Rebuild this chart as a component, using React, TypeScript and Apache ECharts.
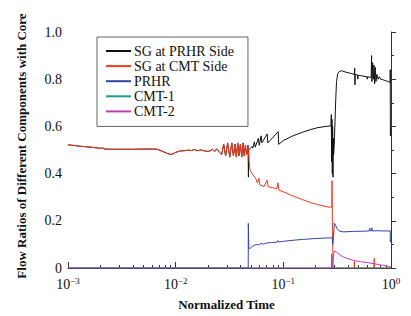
import React, { useEffect, useRef } from "react";
import * as echarts from "echarts";

// ---- data ([normalized time, flow ratio]) ----
const sharedEarly: [number, number][] = [
  [0.001, 0.522], [0.0013, 0.516], [0.0017, 0.511], [0.002, 0.507], [0.0021, 0.509],
  [0.0022, 0.504], [0.0025, 0.503], [0.003, 0.503], [0.004, 0.503], [0.005, 0.504],
  [0.0062, 0.504], [0.0067, 0.503], [0.0075, 0.495], [0.0083, 0.486], [0.009, 0.481],
  [0.0095, 0.484], [0.010, 0.490], [0.011, 0.496], [0.012, 0.497], [0.013, 0.499],
  [0.014, 0.498], [0.015, 0.502], [0.016, 0.497], [0.017, 0.500], [0.018, 0.498],
  [0.019, 0.495], [0.020, 0.494], [0.021, 0.497], [0.022, 0.503], [0.023, 0.493],
  [0.024, 0.505], [0.0255, 0.49], [0.0267, 0.48], [0.0279, 0.525], [0.0291, 0.475],
  [0.0304, 0.53], [0.0318, 0.47], [0.0332, 0.53], [0.0344, 0.475], [0.0356, 0.525],
  [0.0366, 0.47], [0.0377, 0.53], [0.0388, 0.475], [0.0399, 0.525], [0.0411, 0.47],
  [0.0423, 0.53], [0.0433, 0.475], [0.0444, 0.52], [0.0456, 0.48], [0.0468, 0.51],
];

const prhrSideLate: [number, number][] = [
  [0.047, 0.52], [0.0474, 0.385], [0.0477, 0.50], [0.049, 0.505], [0.051, 0.515],
  [0.052, 0.508], [0.0539, 0.535], [0.0548, 0.512], [0.0587, 0.55], [0.0597, 0.52],
  [0.0622, 0.56], [0.0632, 0.53], [0.0708, 0.568], [0.0718, 0.53], [0.0897, 0.578],
  [0.0905, 0.524], [0.10, 0.54], [0.12, 0.558], [0.15, 0.575], [0.18, 0.587],
  [0.21, 0.595], [0.25, 0.600], [0.277, 0.602], [0.279, 0.65], [0.281, 0.45],
  [0.283, 0.63], [0.285, 0.40], [0.287, 0.60], [0.289, 0.385], [0.291, 0.55],
  [0.293, 0.48], [0.297, 0.52], [0.302, 0.62], [0.307, 0.72], [0.312, 0.79],
  [0.32, 0.824], [0.33, 0.832], [0.347, 0.836], [0.38, 0.830], [0.42, 0.825],
  [0.455, 0.82], [0.46, 0.847], [0.463, 0.776], [0.466, 0.82], [0.49, 0.818],
  [0.492, 0.80], [0.495, 0.817], [0.60, 0.81], [0.602, 0.80], [0.605, 0.81],
  [0.655, 0.808], [0.66, 0.90], [0.665, 0.79], [0.675, 0.87], [0.685, 0.80],
  [0.695, 0.86], [0.705, 0.78], [0.715, 0.85], [0.725, 0.79], [0.74, 0.82],
  [0.76, 0.80], [0.78, 0.81], [0.80, 0.80], [0.85, 0.797], [0.90, 0.793],
  [0.95, 0.789], [0.982, 0.786], [0.984, 0.84], [0.987, 0.56], [0.992, 0.575],
  [1.0, 0.59],
];

const cmtSideLate: [number, number][] = [
  [0.047, 0.50], [0.0478, 0.47], [0.049, 0.415], [0.052, 0.395], [0.055, 0.382],
  [0.0575, 0.36], [0.0593, 0.38], [0.0605, 0.352], [0.066, 0.345], [0.0708, 0.372],
  [0.072, 0.345], [0.08, 0.34], [0.087, 0.335], [0.089, 0.361], [0.091, 0.33],
  [0.10, 0.323], [0.12, 0.307], [0.15, 0.29], [0.18, 0.277], [0.21, 0.268],
  [0.25, 0.26], [0.282, 0.257], [0.283, 0.37], [0.2845, 0.28], [0.287, 0.12],
  [0.29, 0.0], [0.455, 0.0], [0.457, 0.028], [0.459, 0.0], [0.695, 0.0],
  [0.698, 0.04], [0.701, 0.0], [1.0, 0.0],
];

const prhr: [number, number][] = [
  [0.001, 0], [0.0472, 0], [0.0473, 0.189], [0.0478, 0.085], [0.049, 0.082],
  [0.051, 0.09], [0.054, 0.097], [0.057, 0.10], [0.059, 0.097], [0.062, 0.104],
  [0.065, 0.101], [0.07, 0.106], [0.08, 0.108], [0.088, 0.11], [0.089, 0.116],
  [0.091, 0.11], [0.10, 0.113], [0.12, 0.117], [0.15, 0.121], [0.20, 0.125],
  [0.25, 0.127], [0.285, 0.128], [0.288, 0.10], [0.292, 0.13], [0.298, 0.19],
  [0.305, 0.183], [0.315, 0.167], [0.33, 0.157], [0.36, 0.153], [0.45, 0.155],
  [0.55, 0.156], [0.63, 0.157], [0.635, 0.168], [0.64, 0.157], [0.66, 0.158],
  [0.665, 0.17], [0.67, 0.157], [0.75, 0.158], [0.85, 0.157], [0.96, 0.157],
  [0.984, 0.158], [0.986, 0.11], [0.99, 0.12], [1.0, 0.122],
];

const cmt1: [number, number][] = [
  [0.001, 0], [0.28, 0], [0.2808, 0.05], [0.284, 0.0], [1.0, 0],
];

const cmt2: [number, number][] = [
  [0.001, 0], [0.2805, 0], [0.281, 0.06], [0.283, 0.06], [0.285, 0.0],
  [0.288, 0.02], [0.295, 0.065], [0.30, 0.072], [0.31, 0.068], [0.33, 0.058],
  [0.36, 0.047], [0.40, 0.039], [0.45, 0.032], [0.52, 0.027], [0.60, 0.023],
  [0.70, 0.018], [0.80, 0.013], [0.90, 0.01], [0.95, 0.007], [1.0, 0.004],
];

const seriesNames = ["SG at PRHR Side", "SG at CMT Side", "PRHR", "CMT-1", "CMT-2"];
const seriesColors = ["#111111", "#f03a22", "#3344a8", "#22998a", "#c040b0"];

const yTicks = [0, 0.2, 0.4, 0.6, 0.8, 1.0];
const xMinorTickValues = [
  0.002, 0.003, 0.004, 0.005, 0.006, 0.007, 0.008, 0.009,
  0.02, 0.03, 0.04, 0.05, 0.06, 0.07, 0.08, 0.09,
  0.2, 0.3, 0.4, 0.5, 0.6, 0.7, 0.8, 0.9,
];

const FONT = "Liberation Serif, Times New Roman, serif";

export default function App() {
  const ref = useRef<HTMLDivElement>(null);
  useEffect(() => {
    if (!ref.current) return;
    const chart = echarts.init(ref.current, null, { renderer: "svg" });
    const dataSets = [
      [...sharedEarly, ...prhrSideLate],
      [...sharedEarly, ...cmtSideLate],
      prhr,
      cmt1,
      cmt2,
    ];
    chart.setOption({
      animation: false,
      backgroundColor: "#ffffff",
      textStyle: { fontFamily: FONT },
      grid: { left: 68, right: 20, top: 32, bottom: 48 },
      legend: {
        orient: "vertical",
        left: 97,
        top: 37,
        padding: [7, 14, 8, 8],
        itemWidth: 25,
        itemHeight: 14,
        itemGap: 1.1,
        borderColor: "#666666",
        borderWidth: 1,
        data: seriesNames,
        itemStyle: { opacity: 0 },
        textStyle: {
          fontFamily: FONT,
          fontSize: 14,
          lineHeight: 14,
          color: "#111111",
          padding: [0, 0, 0, -2],
        },
      },
      xAxis: [
        {
          type: "log",
          logBase: 10,
          min: 0.001,
          max: 1,
          name: "Normalized Time",
          nameLocation: "middle",
          nameGap: 30,
          nameTextStyle: {
            fontFamily: FONT,
            fontWeight: "bold",
            fontSize: 13,
            color: "#111111",
            padding: [0, 6, 0, 0],
          },
          axisLine: { lineStyle: { color: "#333333", width: 1 } },
          axisTick: { inside: true, length: 6, lineStyle: { color: "#333333" } },
          splitLine: { show: false },
          axisLabel: {
            margin: 8,
            color: "#111111",
            formatter: (v: number) => {
              const e = Math.round(Math.log10(v));
              return "{b|10}{s|" + (e < 0 ? "\u2212" + -e : String(e)) + "}";
            },
            rich: {
              b: { fontFamily: FONT, fontSize: 14, color: "#111111" },
              s: { fontFamily: FONT, fontSize: 9, color: "#111111", padding: [0, 0, 7, 0] },
            },
          },
        },
        {
          type: "value",
          min: -3,
          max: 0,
          position: "bottom",
          axisLine: { show: false },
          axisLabel: { show: false },
          splitLine: { show: false },
          axisTick: {
            show: true,
            inside: true,
            length: 3,
            lineStyle: { color: "#333333" },
            customValues: xMinorTickValues.map((v) => Math.log10(v)),
          },
        },
      ],
      yAxis: {
        type: "value",
        min: 0,
        max: 1,
        interval: 0.2,
        name: "Flow Ratios of Different Components with Core",
        nameLocation: "middle",
        nameGap: 40,
        nameTextStyle: {
          fontFamily: FONT,
          fontWeight: "bold",
          fontSize: 13,
          color: "#111111",
          padding: [0, 0, 0, 8],
        },
        axisLine: { show: true, lineStyle: { color: "#333333", width: 1 } },
        axisTick: { inside: true, length: 5, lineStyle: { color: "#333333" } },
        minorTick: { show: true, splitNumber: 2, length: 3, lineStyle: { color: "#333333" } },
        splitLine: { show: false },
        axisLabel: {
          margin: 6,
          fontSize: 14,
          fontFamily: FONT,
          color: "#111111",
          formatter: (v: number) => (yTicks.indexOf(v) === 0 ? "0" : v.toFixed(1)),
        },
      },
      series: seriesNames.map((name, i) => ({
        name,
        type: "line",
        xAxisIndex: 0,
        data: dataSets[i],
        symbol: "none",
        color: seriesColors[i],
        lineStyle: { width: 1, color: seriesColors[i] },
        emphasis: { disabled: true },
        z: 2 + i,
      })),
    });
    return () => chart.dispose();
  }, []);
  return (
    <div
      ref={ref}
      style={{ position: "fixed", left: 0, top: 0, width: 411, height: 316, background: "#fff" }}
    />
  );
}
